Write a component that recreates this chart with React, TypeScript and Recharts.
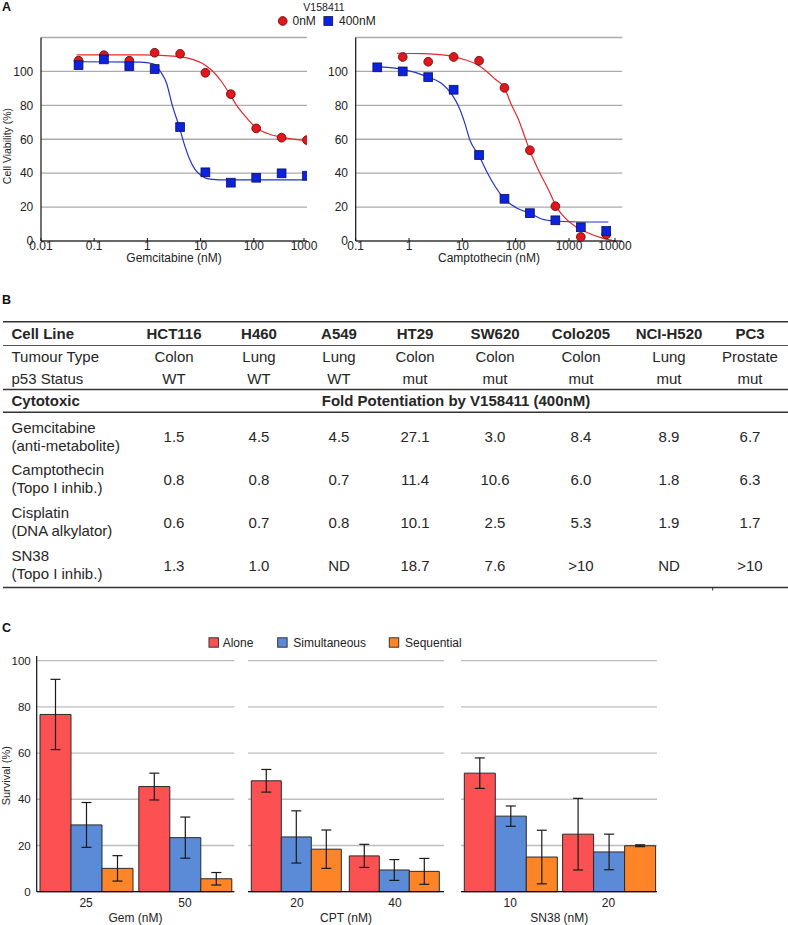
import React from 'react';
import {
  ComposedChart, Line, Scatter, XAxis, YAxis, CartesianGrid, Label,
  BarChart, Bar, ErrorBar,
} from 'recharts';

const FONT = '"Liberation Sans", Arial, Helvetica, sans-serif';

// ---- Panel A: dose response (V158411 0nM vs 400nM) ----
const gemDoses = [0.0508, 0.152, 0.457, 1.37, 4.12, 12.3, 37.0, 111, 333, 1000];
const gem0nM = [106.3, 109.6, 106.3, 111.0, 110.4, 99.2, 86.6, 66.4, 60.9, 59.5];
const gem400nM = [103.7, 107.1, 103.1, 101.4, 67.2, 40.5, 34.4, 37.3, 39.9, 38.5];

const gemFit0nM: [number, number][] = [
  [0.0468, 109.8], [0.726, 109.8], [3.07, 109.0], [6.31, 107.5], [11.7, 104.1],
  [17.3, 99.8], [24.9, 93.9], [34.7, 87.0], [47.6, 80.0], [68.4, 73.7],
  [108, 67.0], [175, 63.5], [320, 61.3], [553, 60.1], [1000, 59.3],
];
const gemFit400nM: [number, number][] = [
  [0.0468, 105.7], [0.726, 105.5], [1.29, 104.5], [1.77, 99.8], [2.3, 92.9],
  [2.94, 80.0], [3.98, 67.2], [4.88, 57.6], [6.14, 48.7], [7.85, 42.2],
  [10.5, 38.3], [15.0, 36.5], [30.9, 36.0], [1000, 36.0],
];

const cptDoses = [0.254, 0.762, 2.29, 6.86, 20.6, 61.7, 185, 556, 1667, 5000];
const cpt0nMDoses = cptDoses.slice(1);
const cpt0nM = [108.5, 105.7, 108.5, 106.3, 90.3, 53.5, 20.5, 2.4, 3.9];
const cpt400nM = [102.4, 100.0, 96.6, 89.2, 50.7, 24.9, 16.4, 12.2, 8.1, 5.9];

const cptFit0nM: [number, number][] = [
  [0.587, 110.7], [1.73, 110.5], [5.47, 109.3], [11.2, 106.9], [20.0, 103.7],
  [28.6, 100.0], [41.0, 95.5], [61.3, 90.3], [84.1, 80.0], [112, 72.0],
  [154, 60.0], [183, 53.5], [286, 40.0], [410, 30.4], [587, 20.0],
  [841, 13.6], [1296, 8.7], [2304, 4.7], [4097, 1.8], [7290, 0],
];
const cptFit400nM: [number, number][] = [
  [0.237, 102.8], [0.729, 101.4], [2.24, 96.8], [4.1, 92.9], [6.31, 86.6],
  [8.41, 79.7], [11.2, 69.2], [13.9, 59.4], [20.2, 50.7], [29.9, 39.8],
  [41.0, 32.3], [61.3, 24.9], [104, 19.5], [183, 16.4], [307, 13.0],
  [554, 11.8], [1728, 11.2], [5464, 11.2],
];

const gemTicks = [0.01, 0.1, 1, 10, 100, 1000];
const cptTicks = [0.1, 1, 10, 100, 1000, 10000];
const viabilityTicks = [0, 20, 40, 60, 80, 100, 120];

// ---- Panel B: table ----
const cellLines = ['HCT116', 'H460', 'A549', 'HT29', 'SW620', 'Colo205', 'NCI-H520', 'PC3'];
const tumourTypes = ['Colon', 'Lung', 'Lung', 'Colon', 'Colon', 'Colon', 'Lung', 'Prostate'];
const p53Status = ['WT', 'WT', 'WT', 'mut', 'mut', 'mut', 'mut', 'mut'];
const cytotoxicNames = ['Gemcitabine', 'Camptothecin', 'Cisplatin', 'SN38'];
const cytotoxicClasses = ['(anti-metabolite)', '(Topo I inhib.)', '(DNA alkylator)', '(Topo I inhib.)'];
const foldGem = ['1.5', '4.5', '4.5', '27.1', '3.0', '8.4', '8.9', '6.7'];
const foldCpt = ['0.8', '0.8', '0.7', '11.4', '10.6', '6.0', '1.8', '6.3'];
const foldCis = ['0.6', '0.7', '0.8', '10.1', '2.5', '5.3', '1.9', '1.7'];
const foldSn38 = ['1.3', '1.0', 'ND', '18.7', '7.6', '>10', 'ND', '>10'];

// ---- Panel C: survival bars ----
const schedules = ['Alone', 'Simultaneous', 'Sequential'];
const gemConc = ['25', '50'];
const gemAlone = [76.7, 45.5];
const gemAloneErr = [15.2, 5.8];
const gemSimul = [28.9, 23.4];
const gemSimulErr = [9.7, 8.9];
const gemSeq = [10.1, 5.6];
const gemSeqErr = [5.5, 2.7];

const cptConc = ['20', '40'];
const cptAlone = [48.0, 15.5];
const cptAloneErr = [4.9, 5.0];
const cptSimul = [23.7, 9.4];
const cptSimulErr = [11.3, 4.5];
const cptSeq = [18.4, 8.8];
const cptSeqErr = [8.3, 5.6];

const snConc = ['10', '20'];
const snAlone = [51.3, 24.9];
const snAloneErr = [6.6, 15.5];
const snSimul = [32.7, 17.2];
const snSimulErr = [4.4, 7.7];
const snSeq = [15.0, 19.9];
const snSeqErr = [11.6, 0.4];

const survivalTicks = [0, 20, 40, 60, 80, 100];

const RED = '#e3161c';
const BLUE = '#0b22e0';
const BAR_COLORS = ['#fc5152', '#5b8bd6', '#fe8527'];

const toXY = (xs: number[], ys: number[]) => xs.map((x, i) => ({ x, y: ys[i] }));
const fitXY = (pairs: [number, number][]) => pairs.map(([x, y]) => ({ x, y }));

const RedDot = (p: any) => (
  <circle cx={p.cx} cy={p.cy} r={4.4} fill={RED} stroke="#5a0b0b" strokeWidth={0.8} />
);
const BlueSquare = (p: any) => (
  <rect x={p.cx - 4.4} y={p.cy - 4.4} width={8.8} height={8.8} fill={BLUE} stroke="#101050" strokeWidth={0.8} />
);

const LogTick = (p: any) => {
  const { x, y, payload } = p;
  return (
    <g>
      <line x1={x} x2={x} y1={y - 3} y2={y} stroke="#111" strokeWidth={1} />
      <text x={x} y={y + 9.2} textAnchor="middle" fontSize={12} fill="#222" fontFamily={FONT}>
        {String(payload.value)}
      </text>
    </g>
  );
};

type DoseProps = {
  left: number;
  yAxisWidth: number;
  marginRight: number;
  domain: [number, number];
  ticks: number[];
  title: string;
  pts0: { x: number; y: number }[];
  pts400: { x: number; y: number }[];
  fit0: { x: number; y: number }[];
  fit400: { x: number; y: number }[];
};

const DoseChart = (props: DoseProps) => (
  <div style={{ position: 'absolute', left: props.left, top: 0 }}>
    <ComposedChart width={320} height={270} margin={{ top: 37.5, right: props.marginRight, bottom: 0, left: 0 }}>
      <CartesianGrid vertical={false} stroke="#ababab" strokeWidth={1.3} />
      <XAxis
        dataKey="x"
        type="number"
        scale="log"
        domain={props.domain}
        ticks={props.ticks}
        allowDataOverflow
        height={29}
        tickLine={false}
        tickSize={0}
        tickMargin={0}
        axisLine={{ stroke: '#111', strokeWidth: 1.2 }}
        tick={(p: any) => <LogTick {...p} />}
      >
        <Label value={props.title} position="insideBottom" offset={8} fontSize={12} fill="#222" fontFamily={FONT} />
      </XAxis>
      <YAxis
        dataKey="y"
        type="number"
        domain={[0, 120]}
        ticks={viabilityTicks}
        width={props.yAxisWidth}
        tickLine={false}
        tickSize={0}
        tickMargin={7.7}
        axisLine={{ stroke: '#111', strokeWidth: 1.2 }}
        tickFormatter={(v: number) => (v === 120 ? '' : String(v))}
        tick={{ fontSize: 12, fill: '#222', fontFamily: FONT }}
      />
      <Line data={props.fit0} dataKey="y" type="monotone" stroke="#e52a2a" strokeWidth={1.2} dot={false} activeDot={false} isAnimationActive={false} />
      <Line data={props.fit400} dataKey="y" type="monotone" stroke="#2233cc" strokeWidth={1.2} dot={false} activeDot={false} isAnimationActive={false} />
      <Scatter data={props.pts0} dataKey="y" shape={RedDot} isAnimationActive={false} />
      <Scatter data={props.pts400} dataKey="y" shape={BlueSquare} isAnimationActive={false} />
    </ComposedChart>
  </div>
);

const buildBars = (conc: string[], a: number[], ae: number[], s: number[], se: number[], q: number[], qe: number[]) =>
  conc.map((c, i) => ({ conc: c, alone: a[i], aloneErr: ae[i], simul: s[i], simulErr: se[i], seq: q[i], seqErr: qe[i] }));

const ConcTick = (p: any) => (
  <text x={p.x} y={p.y + 15.3} textAnchor="middle" fontSize={12} fill="#222" fontFamily={FONT}>
    {p.payload.value}
  </text>
);

const NoTick = () => <g />;

type BarProps = {
  left: number;
  width: number;
  showAxis: boolean;
  marginRight: number;
  data: any[];
  title: string;
};

const SurvivalChart = (props: BarProps) => (
  <div style={{ position: 'absolute', left: props.left, top: 630 }}>
    <BarChart
      width={props.width}
      height={295}
      data={props.data}
      margin={{ top: 26, right: props.marginRight, bottom: 0, left: 0 }}
      barCategoryGap={3.3}
      barGap={0}
    >
      <CartesianGrid vertical={false} stroke="#bdbdbd" strokeWidth={1.3} horizontalValues={survivalTicks} />
      <XAxis
        dataKey="conc"
        height={33.3}
        tickLine={false}
        tickSize={0}
        tickMargin={0}
        axisLine={{ stroke: '#111', strokeWidth: 1.2 }}
        tick={(p: any) => <ConcTick {...p} />}
      >
        <Label value={props.title} position="insideBottom" offset={3} fontSize={12} fill="#222" fontFamily={FONT} />
      </XAxis>
      <YAxis
        type="number"
        domain={[0, 102]}
        ticks={survivalTicks}
        width={props.showAxis ? 36.7 : 0}
        tickLine={false}
        tickSize={0}
        tickMargin={6}
        axisLine={props.showAxis ? { stroke: '#111', strokeWidth: 1.2 } : false}
        tick={props.showAxis ? { fontSize: 11.5, fill: '#222', fontFamily: FONT } : NoTick}
      />
      <Bar dataKey="alone" fill={BAR_COLORS[0]} stroke="#2a2a2a" strokeWidth={1} isAnimationActive={false}>
        <ErrorBar dataKey="aloneErr" width={5} stroke="#1a1a1a" strokeWidth={1.2} />
      </Bar>
      <Bar dataKey="simul" fill={BAR_COLORS[1]} stroke="#2a2a2a" strokeWidth={1} isAnimationActive={false}>
        <ErrorBar dataKey="simulErr" width={5} stroke="#1a1a1a" strokeWidth={1.2} />
      </Bar>
      <Bar dataKey="seq" fill={BAR_COLORS[2]} stroke="#2a2a2a" strokeWidth={1} isAnimationActive={false}>
        <ErrorBar dataKey="seqErr" width={5} stroke="#1a1a1a" strokeWidth={1.2} />
      </Bar>
    </BarChart>
  </div>
);

const Overlay = () => {
  const colX = [174, 259, 339, 415, 495, 581, 669, 750];
  const fs = 15;
  const base = (c: number) => c + fs * 0.358;
  const rowCenters = [436.7, 479.5, 522.3, 565.5];
  const foldRows = [foldGem, foldCpt, foldCis, foldSn38];
  const txt = '#262626';
  const legendX = [209, 277.7, 389.3];
  const legendTextX = [222.7, 293.3, 405];
  return (
    <svg width={788} height={925} style={{ position: 'absolute', left: 0, top: 0, pointerEvents: 'none' }} fontFamily={FONT}>
      {/* panel letters */}
      <text x={2} y={11} fontSize={12.5} fontWeight="bold" fill="#111">A</text>
      <text x={2} y={304} fontSize={12.5} fontWeight="bold" fill="#111">B</text>
      <text x={2} y={632} fontSize={12.5} fontWeight="bold" fill="#111">C</text>

      {/* panel A legend */}
      <text x={324} y={10.6} fontSize={10.5} textAnchor="middle" fill="#222">V158411</text>
      <circle cx={282.7} cy={21} r={4.4} fill={RED} stroke="#5a0b0b" strokeWidth={0.8} />
      <text x={292.5} y={25.3} fontSize={12} fill="#222">0nM</text>
      <rect x={323.9} y={16.6} width={8.8} height={8.8} fill={BLUE} stroke="#101050" strokeWidth={0.8} />
      <text x={339} y={25.3} fontSize={12} fill="#222">400nM</text>
      <text transform="translate(7.2,146) rotate(-90)" y={10.5 * 0.36} fontSize={10.5} textAnchor="middle" fill="#222">
        Cell Viability (%)
      </text>

      {/* panel B table */}
      <line x1={3} x2={788} y1={321.7} y2={321.7} stroke="#333" strokeWidth={1.5} />
      <line x1={3} x2={788} y1={345.5} y2={345.5} stroke="#555" strokeWidth={1} />
      <line x1={3} x2={788} y1={389.5} y2={389.5} stroke="#333" strokeWidth={1.6} />
      <line x1={3} x2={788} y1={412.3} y2={412.3} stroke="#333" strokeWidth={1.6} />
      <line x1={3} x2={788} y1={587.5} y2={587.5} stroke="#333" strokeWidth={1.6} />
      <line x1={712.7} x2={712.7} y1={587.5} y2={590.5} stroke="#333" strokeWidth={1} />

      <text x={11.5} y={base(333.5)} fontSize={fs} fontWeight="bold" fill={txt}>Cell Line</text>
      <text x={11.5} y={base(357)} fontSize={fs} fill={txt}>Tumour Type</text>
      <text x={11.5} y={base(378.5)} fontSize={fs} fill={txt}>p53 Status</text>
      <text x={11.5} y={base(400.5)} fontSize={fs} fontWeight="bold" fill={txt}>Cytotoxic</text>
      <text x={456} y={base(400.5)} fontSize={fs} fontWeight="bold" textAnchor="middle" fill={txt}>
        Fold Potentiation by V158411 (400nM)
      </text>
      {cellLines.map((c, i) => (
        <text key={'h' + c} x={colX[i]} y={base(333.5)} fontSize={fs} fontWeight="bold" textAnchor="middle" fill={txt}>{c}</text>
      ))}
      {tumourTypes.map((c, i) => (
        <text key={'t' + i} x={colX[i]} y={base(357)} fontSize={fs} textAnchor="middle" fill={txt}>{c}</text>
      ))}
      {p53Status.map((c, i) => (
        <text key={'p' + i} x={colX[i]} y={base(378.5)} fontSize={fs} textAnchor="middle" fill={txt}>{c}</text>
      ))}
      {cytotoxicNames.map((n, r) => (
        <g key={'r' + n}>
          <text x={11.5} y={base(rowCenters[r] - 9.5)} fontSize={fs} fill={txt}>{n}</text>
          <text x={11.5} y={base(rowCenters[r] + 8.5)} fontSize={fs} fill={txt}>{cytotoxicClasses[r]}</text>
          {foldRows[r].map((v, i) => (
            <text key={i} x={colX[i]} y={base(rowCenters[r])} fontSize={fs} textAnchor="middle" fill={txt}>{v}</text>
          ))}
        </g>
      ))}

      {/* panel C legend */}
      {schedules.map((s, i) => (
        <g key={s}>
          <rect x={legendX[i]} y={637.8} width={9.4} height={9.4} fill={BAR_COLORS[i]} stroke="#333" strokeWidth={1} />
          <text x={legendTextX[i]} y={646.6} fontSize={12} fill="#222">{s}</text>
        </g>
      ))}
      <text transform="translate(6,775.7) rotate(-90)" y={11 * 0.36} fontSize={11} textAnchor="middle" fill="#222">
        Survival (%)
      </text>
    </svg>
  );
};

export default function App() {
  return (
    <div style={{ position: 'absolute', left: 0, top: 0, width: 788, height: 925, background: '#fff', fontFamily: FONT }}>
      <DoseChart
        left={0}
        yAxisWidth={41}
        marginRight={13}
        domain={[0.01, 1000]}
        ticks={gemTicks}
        title="Gemcitabine (nM)"
        pts0={toXY(gemDoses, gem0nM)}
        pts400={toXY(gemDoses, gem400nM)}
        fit0={fitXY(gemFit0nM)}
        fit400={fitXY(gemFit400nM)}
      />
      <DoseChart
        left={315}
        yAxisWidth={40.7}
        marginRight={12.7}
        domain={[0.1, 10000]}
        ticks={cptTicks}
        title="Camptothecin (nM)"
        pts0={toXY(cpt0nMDoses, cpt0nM)}
        pts400={toXY(cptDoses, cpt400nM)}
        fit0={fitXY(cptFit0nM)}
        fit400={fitXY(cptFit400nM)}
      />
      <SurvivalChart
        left={0}
        width={236}
        marginRight={1.7}
        showAxis
        title="Gem (nM)"
        data={buildBars(gemConc, gemAlone, gemAloneErr, gemSimul, gemSimulErr, gemSeq, gemSeqErr)}
      />
      <SurvivalChart
        left={248}
        width={196}
        marginRight={0}
        showAxis={false}
        title="CPT (nM)"
        data={buildBars(cptConc, cptAlone, cptAloneErr, cptSimul, cptSimulErr, cptSeq, cptSeqErr)}
      />
      <SurvivalChart
        left={460.7}
        width={196.6}
        marginRight={0}
        showAxis={false}
        title="SN38 (nM)"
        data={buildBars(snConc, snAlone, snAloneErr, snSimul, snSimulErr, snSeq, snSeqErr)}
      />
      <Overlay />
    </div>
  );
}
